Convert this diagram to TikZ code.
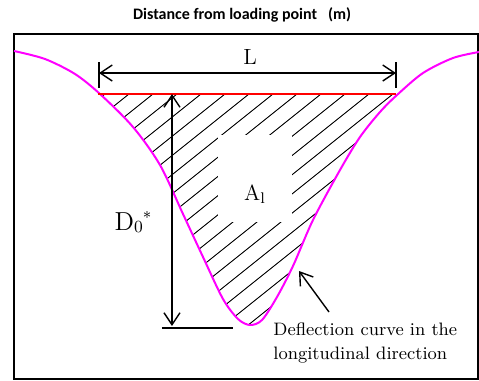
\documentclass[tikz,border=0pt]{standalone}
\usepackage{fontspec}
\usepackage{tikz}
\usetikzlibrary{arrows.meta}
\newfontfamily\titlefont{Carlito}
\definecolor{Curve}{HTML}{FF00FF}
\definecolor{Base}{HTML}{FF0000}

\begin{document}
\begin{tikzpicture}[
    x=0.5pt, y=-0.5pt,
    boxframe/.style={draw=black, line width=1pt},
    deflcurve/.style={draw=Curve, line width=1pt},
    redline/.style={draw=Base, line width=1.1pt},
    hatchline/.style={draw=black, line width=0.45pt},
    dimline/.style={{Straight Barb[length=6pt,width=8pt]}-{Straight Barb[length=6pt,width=8pt]}, line width=0.7pt},
    dimtick/.style={line width=0.7pt},
    pointer/.style={-{Straight Barb[length=6pt,width=8pt]}, line width=0.7pt},
    lbl/.style={inner sep=0pt, align=center}
  ]
    \useasboundingbox (0,0) rectangle (479,381);

    % Title
    \node (title) [lbl, font=\titlefont\bfseries\fontsize{8}{10}\selectfont] at (242,15) {Distance from loading point\ \ \ (m)};

    % Frame
    \draw [boxframe] (14,34) rectangle (478,379);

    % Hatched area
    \begin{scope}
      \clip (0,94) rectangle (479,381);
      \clip (14,51) plot[smooth] coordinates {(14,51) (45,59) (75,74) (100,94) (133,127) (160,165) (183,214) (203,257) (223,299) (238,319) (250,325) (262,320) (277,297) (293,266) (313,220) (340,170) (360,137) (380,112) (397,95) (423,73) (453,58) (479,52)} -- cycle;
      \foreach \c in {81,105,...,561}
        \draw [hatchline] (\c+60,46) -- (\c-340,366);
    \end{scope}

    % Area label
    \node (Al) [lbl, fill=white, minimum width=37pt, text height=33pt, text depth=10.5pt, font=\fontsize{11}{13}\selectfont] at (255,178) {A$_{\mathrm{l}}$};

    % Deflection curve
    \draw [deflcurve] plot[smooth] coordinates {(14,51) (45,59) (75,74) (100,94) (133,127) (160,165) (183,214) (203,257) (223,299) (238,319) (250,325) (262,320) (277,297) (293,266) (313,220) (340,170) (360,137) (380,112) (397,95) (423,73) (453,58) (479,52)};

    % Chord
    \coordinate (cl) at (98,94);
    \coordinate (cr) at (396,94);
    \draw [redline] (cl) -- (cr);

    % Width L
    \coordinate (ltop) at (99,62);
    \coordinate (lbot) at (99,88);
    \coordinate (rtop) at (396,62);
    \coordinate (rbot) at (396,88);
    \coordinate (la) at (99,73);
    \coordinate (ra) at (396,73);
    \draw [dimtick] (ltop) -- (lbot);
    \draw [dimtick] (rtop) -- (rbot);
    \draw [dimline] (la) -- (ra);
    \node (L) [lbl, font=\fontsize{11}{13}\selectfont] at (250,57) {L};

    % Depth D0*
    \coordinate (dtop) at (172,94);
    \coordinate (dbot) at (172,326);
    \coordinate (gl) at (162,328);
    \coordinate (gr) at (233,328);
    \draw [dimtick] (gl) -- (gr);
    \draw [dimline] (dtop) -- (dbot);
    \node (D0) [lbl, font=\fontsize{13}{15}\selectfont] at (133,222) {D\raisebox{-1pt}{\fontsize{8.5}{9}\selectfont 0}\raisebox{3.5pt}{\fontsize{8}{8}\selectfont *}};

    % Curve note
    \node (note) [anchor=north west, align=left, inner sep=0pt, font=\fontsize{9}{12}\selectfont] at (273,322) {Deflection curve in the\\longitudinal direction};
    \coordinate (tip) at (299,271);
    \draw [pointer] ([xshift=28pt,yshift=5pt]note.north west) -- (tip);
  \end{tikzpicture}
\end{document}
